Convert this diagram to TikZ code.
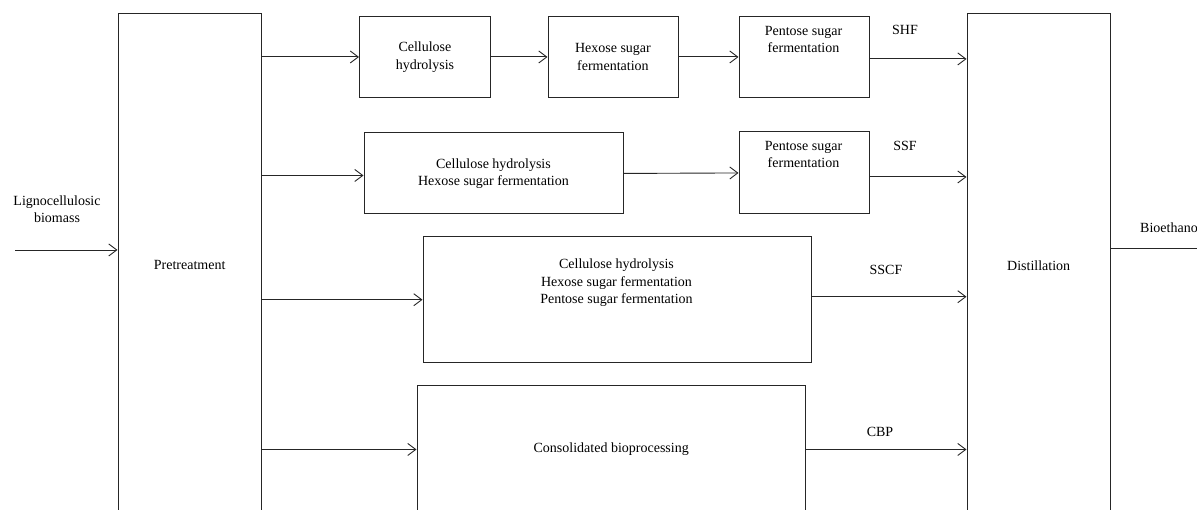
\documentclass[tikz,border=0pt]{standalone}
\usepackage{fontspec}
\setmainfont{Liberation Serif}
\usetikzlibrary{arrows.meta}
\newcommand\dfont{\fontsize{14}{17.5}\selectfont}
\begin{document}
\begin{tikzpicture}[x=1pt,y=-1pt,
  box/.style={draw=black!85, line width=0.9pt, inner sep=0pt, anchor=north west, align=center, font=\dfont},
  txt/.style={inner sep=0pt, align=center, font=\dfont},
  arr/.style={draw=black!85, line width=0.9pt, -{Straight Barb[length=8pt,width=12pt]}},
  ln/.style={draw=black!85, line width=0.9pt}]
\useasboundingbox (0,0) rectangle (1197,510);
\clip (0,0) rectangle (1197,510);
% main boxes
\node[box, minimum width=143.5pt, minimum height=503pt] (pre) at (117.5,13.5) {Pretreatment};
\node[box, minimum width=143.5pt, minimum height=503pt] (dist) at (966.5,13.5) {Distillation};
% row 1
\node[box, minimum width=131pt, minimum height=81pt] (b1) at (359,16) {Cellulose\\hydrolysis};
\node[box, minimum width=130pt, minimum height=81pt] (b2) at (547.5,16) {Hexose sugar\\fermentation};
\node[box, minimum width=130pt, minimum height=81pt] (b3) at (738.5,16) {};
\node[txt] (t3) at (803.5,39.5) {Pentose sugar\\fermentation};
% row 2
\node[box, minimum width=259pt, minimum height=81pt] (b4) at (363.5,132.5) {Cellulose hydrolysis\\Hexose sugar fermentation};
\node[box, minimum width=130pt, minimum height=82pt] (b5) at (738.5,131.5) {};
\node[txt] (t5) at (803.5,154.5) {Pentose sugar\\fermentation};
% row 3
\node[box, minimum width=388.5pt, minimum height=126.5pt] (b6) at (422.5,236) {};
\node[txt] (t6) at (616.5,283) {Cellulose hydrolysis\\Hexose sugar fermentation\\Pentose sugar fermentation};
% row 4
\node[box, minimum width=388.5pt, minimum height=128pt] (b7) at (416.5,385) {Consolidated bioprocessing};
% labels
\node[txt] (lig) at (57,209) {Lignocellulosic\\biomass};
\node[txt, anchor=west] (bio) at (1140,228) {Bioethanol};
\node[txt] (shf) at (905,30) {SHF};
\node[txt] (ssf) at (905,146) {SSF};
\node[txt] (sscf) at (886,270) {SSCF};
\node[txt] (cbp) at (880,432) {CBP};
% input / output
\coordinate (in) at (15,250);
\coordinate (out) at (1197,248);
\coordinate (o3) at ([yshift=-2pt]b3.east);
\coordinate (i4) at ([yshift=-2pt]b4.west);
\coordinate (o5) at ([yshift=-4pt]b5.east);
\coordinate (o6) at ([yshift=3pt]b6.east);
\draw[arr] (in) -- (pre.west |- in);
\draw[ln] (dist.east |- out) -- (out);
% row 1 arrows
\draw[arr] (pre.east |- b1.west) -- (b1.west);
\draw[arr] (b1.east) -- (b2.west);
\draw[arr] (b2.east) -- (b3.west);
\draw[arr] (o3) -- (dist.west |- o3);
% row 2 arrows
\draw[arr] (pre.east |- i4) -- (i4);
\draw[arr] (b4.east) -- (b5.west);
\draw[arr] (o5) -- (dist.west |- o5);
% row 3 arrows
\draw[arr] (pre.east |- b6.west) -- (b6.west);
\draw[arr] (o6) -- (dist.west |- o6);
% row 4 arrows
\draw[arr] (pre.east |- b7.west) -- (b7.west);
\draw[arr] (b7.east) -- (dist.west |- b7.east);
\end{tikzpicture}
\end{document}
